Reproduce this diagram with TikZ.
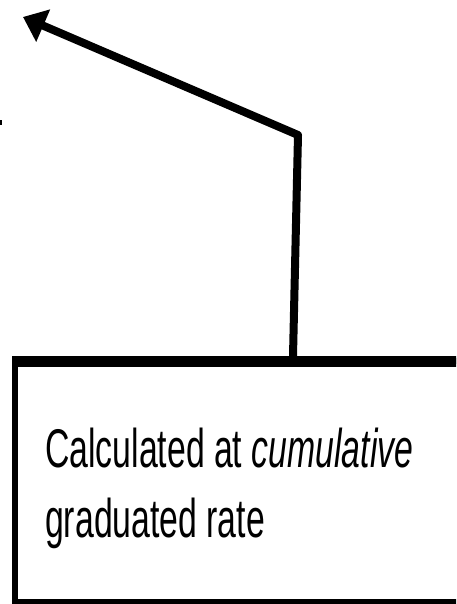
\documentclass[tikz,border=0pt]{standalone}
\usepackage{fontspec}
\setmainfont{Liberation Sans}[FakeStretch=0.62]
\usetikzlibrary{arrows.meta}
\begin{document}
\begin{tikzpicture}[x=1pt,y=-1pt,
  boxline/.style={line width=6pt},
  topline/.style={line width=11pt},
  conn/.style={line width=8pt, line join=round, -{Triangle[length=22pt,width=34pt]}},
  lbl/.style={font=\fontsize{54.5pt}{65pt}\selectfont, anchor=base west, inner sep=0pt}]
\clip (0,0) rectangle (456,604);
\fill[white] (0,0) rectangle (456,604);
% box
\node[draw=none, minimum width=455pt, minimum height=241pt, anchor=north west, inner sep=0pt] (box) at (15,361) {};
\draw[boxline] (box.north west) rectangle (box.south east);
\draw[topline] ([xshift=-3pt]box.north west) -- ([xshift=3pt]box.north east);
\node[lbl] (t1) at (45,467) {Calculated at \textit{cumulative}};
\node[lbl] (t2) at (45,537) {graduated rate};
% connector
\coordinate (start) at (293,356);
\coordinate (bend) at (298,135);
\coordinate (tip) at (23,17);
\draw[conn] (start) -- (bend) -- (tip);
% small tick at left
\fill (0,120) rectangle (2,125);
\end{tikzpicture}
\end{document}
